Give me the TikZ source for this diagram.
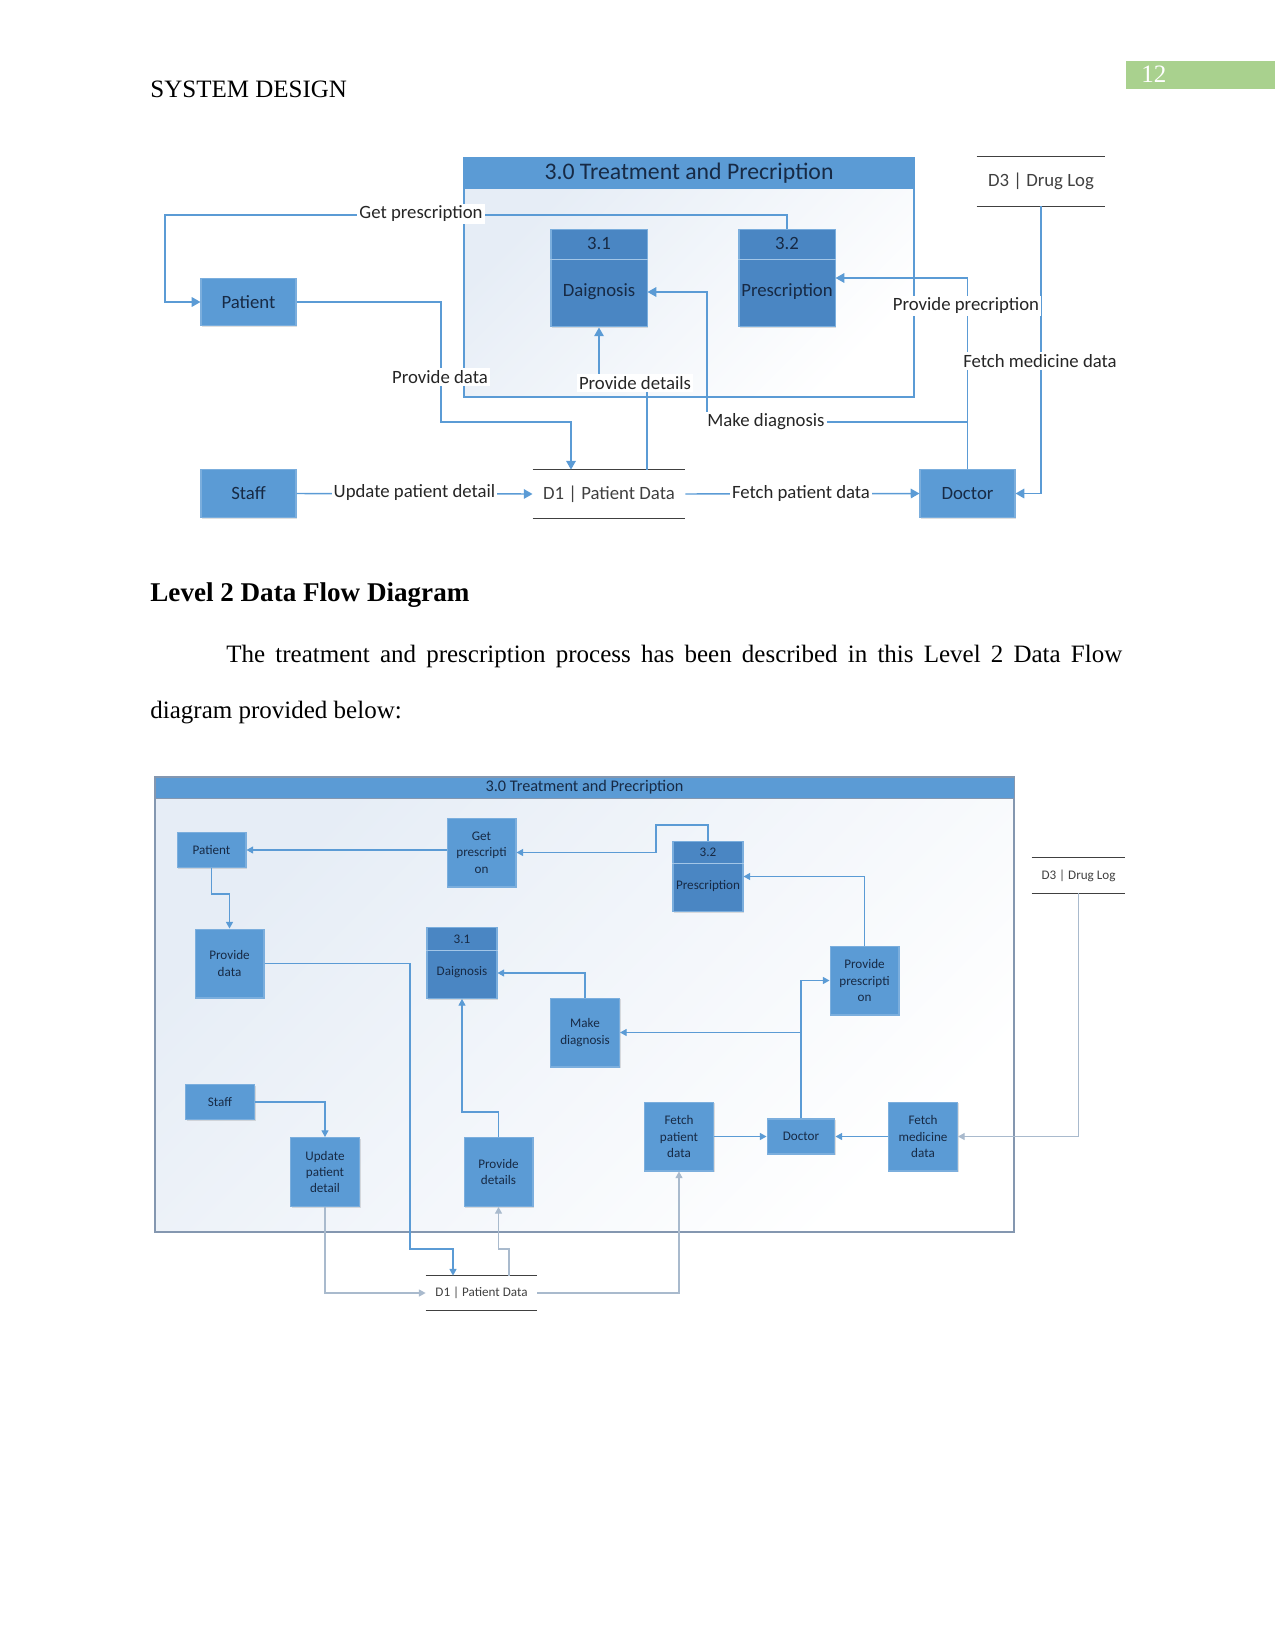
\documentclass[tikz,border=0pt]{standalone}
\usepackage{fontspec}
\setmainfont{Liberation Serif}
\newfontfamily\calfont{Carlito}
\usetikzlibrary{arrows.meta,calc,shadows}
\definecolor{entblue}{HTML}{5B9BD5}
\definecolor{procblue}{HTML}{4A86C3}
\definecolor{edgeblue}{HTML}{7BAEDD}
\definecolor{lineblue}{HTML}{5B9BD5}
\definecolor{linegray}{HTML}{A9BACD}
\definecolor{framegray}{HTML}{8497B0}
\definecolor{tint}{HTML}{E6EDF6}
\definecolor{navy}{HTML}{172A45}
\definecolor{labelgray}{HTML}{262626}
\definecolor{pagegreen}{HTML}{A9D18E}
\definecolor{storegray}{HTML}{404040}
\tikzset{
  ent/.style={draw=edgeblue, line width=0.5pt, fill=entblue, text=navy, inner sep=0pt, align=center,
    drop shadow={shadow xshift=0.7pt, shadow yshift=-0.7pt, opacity=0.25}},
  entA/.style={ent, font=\calfont\fontsize{9}{10}\selectfont, minimum width=45.6pt, minimum height=22.8pt},
  entB/.style={ent, font=\calfont\fontsize{6.3}{7.9}\selectfont, minimum width=33.1pt, minimum height=16.4pt},
  tallB/.style={entB, minimum height=33.1pt},
  procA/.style={ent, fill=procblue, minimum width=46.1pt, minimum height=47pt},
  procB/.style={ent, fill=procblue, minimum width=33.6pt, minimum height=34pt},
  ptxtA/.style={text=navy, inner sep=0pt, font=\calfont\fontsize{9}{10}\selectfont},
  ptxtB/.style={text=navy, inner sep=0pt, font=\calfont\fontsize{6.3}{7.9}\selectfont},
  flowA/.style={draw=lineblue, line width=0.7pt, -{Triangle[width=4.6pt,length=4.2pt]}},
  flowB/.style={draw=lineblue, line width=0.5pt, -{Triangle[width=3.4pt,length=3.2pt]}},
  flowG/.style={flowB, draw=linegray},
  lblA/.style={fill=white, inner sep=1pt, text=labelgray, font=\calfont\fontsize{9}{10}\selectfont},
  store/.style={inner sep=0pt, text=storegray},
  body/.style={inner sep=0pt, anchor=base west, font=\fontsize{12}{14}\selectfont},
}
\begin{document}
\begin{tikzpicture}[x=0.48pt,y=-0.48pt]
\useasboundingbox (0,0) rectangle (1275,1651);
% running head
\fill[pagegreen] (1126,61) rectangle (1275,89);
\node[body, text=white] (pnum) at (1141,83) {12};
\node[body] (head) at (150,98) {SYSTEM DESIGN};

% level 1 diagram
\shade[top color=tint, bottom color=white, shading angle=45] (464,188) rectangle (914,397);
\draw[lineblue, line width=0.7pt] (464,158) rectangle (914,397);
\node[draw=lineblue, fill=entblue, minimum width=216pt, minimum height=14.4pt, inner sep=0pt, text=navy,
  font=\calfont\fontsize{11.4}{13}\selectfont] (ttlA) at (689,173) {3.0 Treatment and Precription};

\node[entA] (pat) at (248.5,302) {Patient};
\node[entA] (staff) at (248.5,493.5) {Staff};
\node[entA] (doc) at (967.5,493.5) {Doctor};
\node[procA] (p31) at (599,278) {};
\node[procA] (p32) at (787,278) {};
\foreach \p/\n/\t in {p31/3.1/Daignosis, p32/3.2/Prescription}{
  \draw[edgeblue!70!white] ($(\p.north west)+(0,31)$) -- ($(\p.north east)+(0,31)$);
  \node[ptxtA] at ($(\p.north)+(0,15)$) {\n};
  \node[ptxtA] at ($(\p.north)+(0,63)$) {\t};
}
\node[store, minimum width=73pt, minimum height=23pt, font=\calfont\fontsize{9}{10}\selectfont] (d1) at (609,494) {D1 | Patient Data};
\node[store, minimum width=61.4pt, minimum height=23.5pt, font=\calfont\fontsize{9}{10}\selectfont] (d3) at (1041,181.5) {D3 | Drug Log};
\foreach \s in {d1,d3}
  \draw[storegray, line width=0.6pt] (\s.north west) -- (\s.north east) (\s.south west) -- (\s.south east);

\draw[flowA] (p32.north) |- (165,215) |- (pat.west);
\draw[flowA] (pat.east) -| (441,422) -| (571,0 |- d1.north);
\draw[flowA] (647,0 |- d1.north) |- (p31.south |- 0,383) -- (p31.south);
\draw[flowA] (staff.east) -- (d1.west);
\draw[flowA] (d1.east) -- (doc.west);
\draw[flowA] (doc.north) |- (p32.east);
\draw[flowA] (doc.north |- 0,422) -| (707,292) -- (p31.east |- 0,292);
\draw[flowA] (d3.south) |- (doc.east);

\node[lblA] (lgp) at (421,214) {Get prescription};
\node[lblA] (lpd) at (440,377) {Provide data};
\node[lblA] (lpt) at (635,383) {Provide details};
\node[lblA] (lup) at (414.5,492) {Update patient detail};
\node[lblA] (lfp) at (801,493) {Fetch patient data};
\node[lblA] (lpp) at (966,306) {Provide precription};
\node[lblA] (lmd) at (766,422) {Make diagnosis};
\node[lblA] (lfm) at (1040,361) {Fetch medicine data};

% text
\node[body, font=\bfseries\fontsize{13}{15}\selectfont] (lvl) at (150,601) {Level 2 Data Flow Diagram};
\node[body] (para1) at (226,662) {\makebox[430pt][s]{The treatment and prescription process has been described in this Level 2 Data Flow}};
\node[body] (para2) at (150,718) {diagram provided below:};

% level 2 diagram
\shade[top color=tint, bottom color=white, shading angle=45] (155,798) rectangle (1014,1232);
\draw[framegray, line width=0.6pt] (155,777) rectangle (1014,1232);
\node[draw=framegray, fill=entblue, minimum width=412.3pt, minimum height=10.1pt, inner sep=0pt, text=navy,
  font=\calfont\fontsize{7.8}{9}\selectfont] (ttlB) at (584.5,787.5) {3.0 Treatment and Precription};

\node[entB] (patb) at (211.5,850) {Patient};
\node[tallB] (getp) at (481.5,852.5) {Get\\prescripti\\on};
\node[tallB] (pdat) at (229.5,963.5) {Provide\\data};
\node[tallB] (ppr) at (864.5,980.5) {Provide\\prescripti\\on};
\node[tallB] (mkd) at (585,1032.5) {Make\\diagnosis};
\node[entB] (staffb) at (220,1102) {Staff};
\node[tallB] (updb) at (325,1172) {Update\\patient\\detail};
\node[tallB] (pdet) at (498.5,1172) {Provide\\details};
\node[tallB] (fpd) at (679,1136.5) {Fetch\\patient\\data};
\node[entB, minimum width=32.6pt, minimum height=16.8pt] (docb) at (801,1136.5) {Doctor};
\node[tallB] (fmd) at (923,1136.5) {Fetch\\medicine\\data};
\node[procB] (p31b) at (462,963) {};
\node[procB] (p32b) at (708,876.5) {};
\foreach \p/\n/\t in {p31b/3.1/Daignosis, p32b/3.2/Prescription}{
  \draw[edgeblue!70!white] ($(\p.north west)+(0,23)$) -- ($(\p.north east)+(0,23)$);
  \node[ptxtB] at ($(\p.north)+(0,12)$) {\n};
  \node[ptxtB] at ($(\p.north)+(0,45)$) {\t};
}
\node[store, minimum width=53.3pt, minimum height=16.3pt, font=\calfont\fontsize{6.3}{7.9}\selectfont] (d1b) at (481.5,1293) {D1 | Patient Data};
\node[store, minimum width=44.6pt, minimum height=16.8pt, font=\calfont\fontsize{6.3}{7.9}\selectfont] (d3b) at (1078.5,875.5) {D3 | Drug Log};
\foreach \s in {d1b,d3b}
  \draw[storegray, line width=0.5pt] (\s.north west) -- (\s.north east) (\s.south west) -- (\s.south east);

\draw[flowB] (getp.west |- patb.east) -- (patb.east);
\draw[flowB] (p32b.north) |- (656,825) |- (getp.east);
\draw[flowB] (patb.south) |- (pdat.north |- 0,894) -- (pdat.north);
\draw[flowB] (pdat.east) -| (410,1249) -| (453,0 |- d1b.north);
\draw[flowB] (pdet.north) |- (p31b.south |- 0,1112) -- (p31b.south);
\draw[flowG] (509,0 |- d1b.north) |- (pdet.south |- 0,1249) -- (pdet.south);
\draw[flowB] (staffb.east) -| (updb.north);
\draw[flowG] (updb.south) |- (d1b.west);
\draw[flowG] (d1b.east) -| (fpd.south);
\draw[flowB] (fpd.east) -- (docb.west);
\draw[flowB] (fmd.west) -- (docb.east);
\draw[flowG] (d3b.south) |- (fmd.east);
\draw[flowB] (docb.north) |- (ppr.west);
\draw[flowB] (docb.north |- mkd.east) -- (mkd.east);
\draw[flowB] (mkd.north) |- (p31b.east |- 0,973);
\draw[flowB] (ppr.north) |- (p32b.east);
\end{tikzpicture}
\end{document}
